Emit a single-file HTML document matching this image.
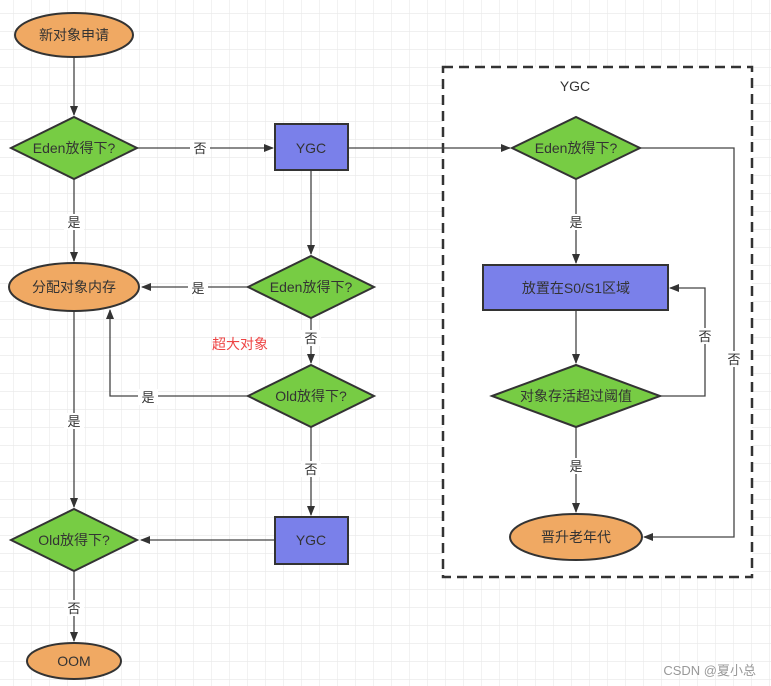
<!DOCTYPE html>
<html><head><meta charset="utf-8"><style>
html,body{margin:0;padding:0;background:#fff}
svg{display:block}
text{font-family:"Liberation Sans","Noto Sans CJK SC",sans-serif;}
</style></head><body>
<svg width="771" height="686" viewBox="0 0 771 686" xmlns="http://www.w3.org/2000/svg">
<defs>
<pattern id="g" x="13" y="13" width="18" height="18" patternUnits="userSpaceOnUse">
<path d="M0 0H18M0 0V18" stroke="#e8e8e8" stroke-width="1.2" fill="none"/>
</pattern>
<marker id="a" markerWidth="10" markerHeight="10" refX="9" refY="5" orient="auto" markerUnits="userSpaceOnUse">
<path d="M0 1 L10 5 L0 9 Z" fill="#333"/>
</marker>
</defs>
<rect width="771" height="686" fill="url(#g)"/>
<rect x="443" y="67" width="309" height="510" fill="#fff" stroke="#333" stroke-width="2.5" stroke-dasharray="10,6"/>
<text x="575" y="91" font-size="14" fill="#333" text-anchor="middle">YGC</text>

<g stroke="#444" stroke-width="1.3" fill="none">
<path d="M74 57V115" marker-end="url(#a)"/>
<path d="M137 148H273" marker-end="url(#a)"/>
<path d="M74 179V261" marker-end="url(#a)"/>
<path d="M311 170V254" marker-end="url(#a)"/>
<path d="M248 287H142" marker-end="url(#a)"/>
<path d="M311 318V363" marker-end="url(#a)"/>
<path d="M248 396H110V310" marker-end="url(#a)"/>
<path d="M74 311V507" marker-end="url(#a)"/>
<path d="M311 427V515" marker-end="url(#a)"/>
<path d="M275 540H141" marker-end="url(#a)"/>
<path d="M74 571V641" marker-end="url(#a)"/>
<path d="M348 148H510" marker-end="url(#a)"/>
<path d="M576 179V263" marker-end="url(#a)"/>
<path d="M576 310V363" marker-end="url(#a)"/>
<path d="M576 427V512" marker-end="url(#a)"/>
<path d="M660 396H705V288H670" marker-end="url(#a)"/>
<path d="M640 148H734V537H644" marker-end="url(#a)"/>
</g>

<g stroke="#333" stroke-width="2">
<ellipse cx="74" cy="35" rx="59" ry="22" fill="#f0a963"/>
<polygon points="11,148 74,117 137,148 74,179" fill="#77cc44"/>
<rect x="275" y="124" width="73" height="46" fill="#7a80ea"/>
<ellipse cx="74" cy="287" rx="65" ry="24" fill="#f0a963"/>
<polygon points="248,287 311,256 374,287 311,318" fill="#77cc44"/>
<polygon points="248,396 311,365 374,396 311,427" fill="#77cc44"/>
<rect x="275" y="517" width="73" height="47" fill="#7a80ea"/>
<polygon points="11,540 74,509 137,540 74,571" fill="#77cc44"/>
<ellipse cx="74" cy="661" rx="47" ry="18" fill="#f0a963"/>
<polygon points="512,148 576,117 640,148 576,179" fill="#77cc44"/>
<rect x="483" y="265" width="185" height="45" fill="#7a80ea"/>
<polygon points="492,396 576,365 660,396 576,427" fill="#77cc44"/>
<ellipse cx="576" cy="537" rx="66" ry="23" fill="#f0a963"/>
</g>

<g font-size="14" fill="#333" text-anchor="middle">
<text x="74" y="40">新对象申请</text>
<text x="74" y="153">Eden放得下?</text>
<text x="311" y="153">YGC</text>
<text x="74" y="292">分配对象内存</text>
<text x="311" y="292">Eden放得下?</text>
<text x="311" y="401">Old放得下?</text>
<text x="311" y="545">YGC</text>
<text x="74" y="545">Old放得下?</text>
<text x="74" y="666">OOM</text>
<text x="576" y="153">Eden放得下?</text>
<text x="576" y="293">放置在S0/S1区域</text>
<text x="576" y="401">对象存活超过阈值</text>
<text x="576" y="542">晋升老年代</text>
</g>
<g font-size="13" fill="#333" text-anchor="middle">
<rect x="190" y="140" width="20" height="16" fill="#fff"/><text x="200" y="153">否</text>
<rect x="64" y="214" width="20" height="16" fill="#fff"/><text x="74" y="227">是</text>
<rect x="188" y="280" width="20" height="16" fill="#fff"/><text x="198" y="293">是</text>
<rect x="301" y="330" width="20" height="16" fill="#fff"/><text x="311" y="343">否</text>
<rect x="138" y="389" width="20" height="16" fill="#fff"/><text x="148" y="402">是</text>
<rect x="64" y="413" width="20" height="16" fill="#fff"/><text x="74" y="426">是</text>
<rect x="301" y="461" width="20" height="16" fill="#fff"/><text x="311" y="474">否</text>
<rect x="64" y="600" width="20" height="16" fill="#fff"/><text x="74" y="613">否</text>
<rect x="566" y="214" width="20" height="16" fill="#fff"/><text x="576" y="227">是</text>
<rect x="695" y="328" width="20" height="16" fill="#fff"/><text x="705" y="341">否</text>
<rect x="724" y="351" width="20" height="16" fill="#fff"/><text x="734" y="364">否</text>
<rect x="566" y="458" width="20" height="16" fill="#fff"/><text x="576" y="471">是</text>
</g>
<text x="240" y="349" font-size="14" fill="#ee4444" text-anchor="middle">超大对象</text>
<text x="756" y="675" font-size="13" fill="#999" text-anchor="end">CSDN @夏小总</text>
</svg>
</body></html>
